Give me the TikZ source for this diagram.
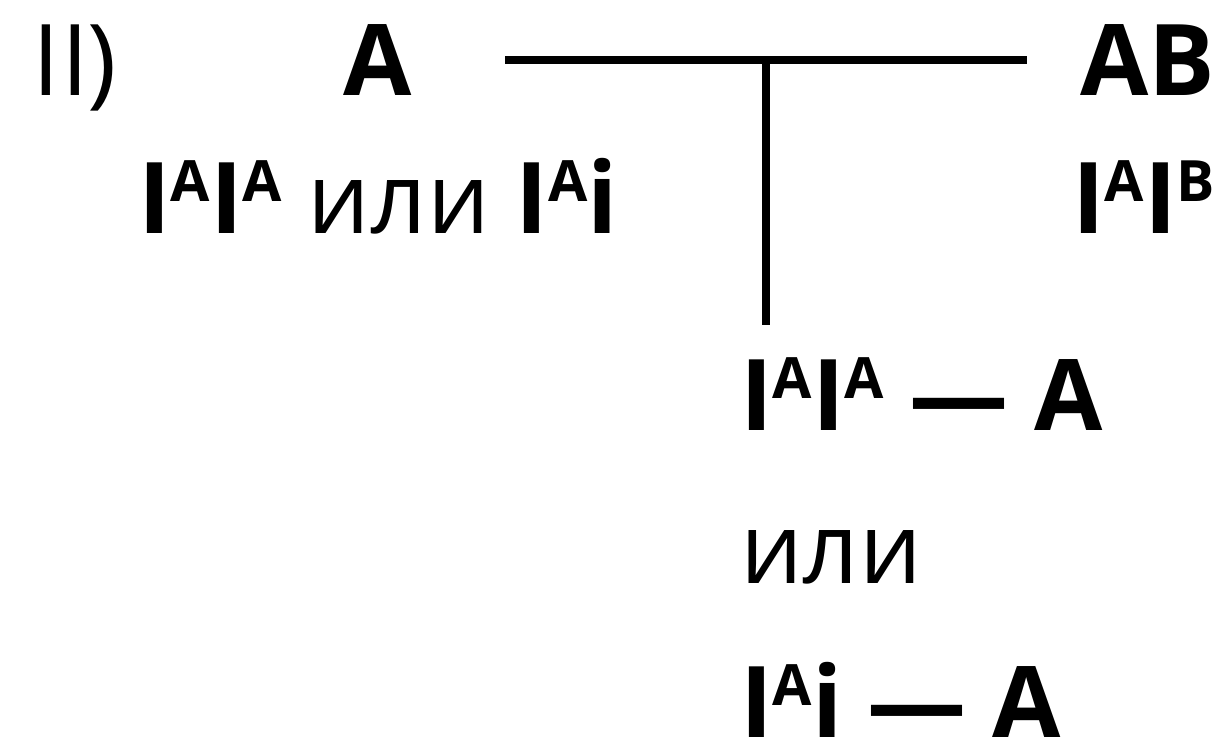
\documentclass[tikz,border=0pt]{standalone}
\usepackage{fontspec}
\setmainfont{Open Sans}
% raised small letter used for allele superscripts
\newcommand\allele[1]{\raisebox{32pt}{\fontsize{57}{57}\selectfont #1}}
\begin{document}
\begin{tikzpicture}[x=1pt,y=-1pt,
  txt/.style={anchor=base west,inner sep=0pt,outer sep=0pt,font=\fontsize{99}{99}\selectfont},
  bold/.style={txt,font=\fontsize{99}{99}\selectfont\bfseries},
  wire/.style={line width=8.5pt,line cap=butt}]
\useasboundingbox (0,0) rectangle (1230,750);
% parents
\node[txt]  (num)  at (32,95)   {I\kern2ptI\kern-2pt)};
\node[bold] (pa)   at (343,95)  {A};
\node[bold] (pab)  at (1080,95) {AB};
% parent genotypes
\node[txt]  (ga)   at (138,233) {\textbf{I\allele{A}I\allele{A}} или \textbf{I\allele{A}i}};
\node[bold] (gab)  at (1072,233) {I\allele{A}I\allele{B}};
% offspring
\node[bold] (o1)   at (740,430) {I\allele{A}I\allele{A} — A};
\node[txt]  (or)   at (740,583) {или};
\node[bold] (o2)   at (740,737) {I\allele{A}i — A};
% crossing lines
\coordinate (hl) at (505,60);
\coordinate (hr) at (1027,60);
\coordinate (vt) at (766,60);
\coordinate (vb) at (766,325);
\draw[wire] (hl) -- (hr);
\draw[wire] (vt) -- (vb);
\end{tikzpicture}
\end{document}
